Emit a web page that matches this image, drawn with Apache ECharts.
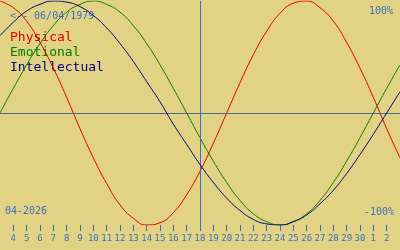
<!DOCTYPE html>
<html><head><meta charset="utf-8">
<script src="https://cdn.jsdelivr.net/npm/echarts@6/dist/echarts.min.js"></script>
<style>html,body{margin:0;padding:0;background:#e1d383;}#c{width:400px;height:250px;}</style>
</head><body><div id="c"></div>
<script>
// Day categories: Apr 3 .. May 3 (first and last are off the tick row)
const days = ['3','4','5','6','7','8','9','10','11','12','13','14','15','16','17','18','19','20','21','22','23','24','25','26','27','28','29','30','1','2','3'];
const todayLabel = '18';
const physical = [1.00,0.94,0.82,0.63,0.40,0.14,-0.14,-0.40,-0.63,-0.82,-0.94,-1.00,-0.98,-0.89,-0.73,-0.52,-0.27,0.00,0.27,0.52,0.73,0.89,0.98,1.00,0.94,0.82,0.63,0.40,0.14,-0.14,-0.40];
const emotional = [0.00,0.22,0.43,0.62,0.78,0.90,0.97,1.00,0.97,0.90,0.78,0.62,0.43,0.22,0.00,-0.22,-0.43,-0.62,-0.78,-0.90,-0.97,-1.00,-0.97,-0.90,-0.78,-0.62,-0.43,-0.22,0.00,0.22,0.43];
const intellectual = [0.69,0.81,0.91,0.97,1.00,0.99,0.95,0.87,0.76,0.62,0.46,0.28,0.10,-0.10,-0.28,-0.46,-0.62,-0.76,-0.87,-0.95,-0.99,-1.00,-0.97,-0.91,-0.81,-0.69,-0.54,-0.37,-0.19,0.00,0.19];
const seriesNames = ['Physical','Emotional','Intellectual'];
const birthText = '<-- 06/04/1979';
const monthText = '04-2026';
const topText = '100%';
const bottomText = '-100%';

const blue = '#3b6fc4';
const colors = ['#e00000','#008000','#000080'];
const mono = '"DejaVu Sans Mono", monospace';
const lastIdx = days.length - 1;

const chart = echarts.init(document.getElementById('c'), null, {renderer:'canvas'});
chart.setOption({
  animation: false,
  backgroundColor: '#e1d383',
  grid: {left: 0, right: 0, top: 1, bottom: 25},
  xAxis: {
    type: 'category', data: days, boundaryGap: false, position: 'bottom',
    axisLine: {show: false, onZero: false},
    axisTick: {show: true, length: 6, lineStyle: {color: blue, width: 1},
      interval: (i) => i > 0 && i < lastIdx},
    axisLabel: {color: blue, fontFamily: mono, fontSize: 9, margin: 9,
      interval: (i) => i > 0 && i < lastIdx},
    splitLine: {show: false}
  },
  yAxis: {type: 'value', min: -1, max: 1, show: false},
  series: [
    {name: seriesNames[0], type: 'line', data: physical, smooth: true, showSymbol: false,
     lineStyle: {color: colors[0], width: 1}, z: 3,
     markLine: {silent: true, symbol: 'none', label: {show: false},
       data: [{yAxis: 0, lineStyle: {color: '#4f6a8a', width: 1, type: 'solid'}},
              {xAxis: todayLabel, lineStyle: {color: blue, width: 1, type: 'solid'}}]}},
    {name: seriesNames[1], type: 'line', data: emotional, smooth: true, showSymbol: false,
     lineStyle: {color: colors[1], width: 1}, z: 4},
    {name: seriesNames[2], type: 'line', data: intellectual, smooth: true, showSymbol: false,
     lineStyle: {color: colors[2], width: 1}, z: 5}
  ],
  graphic: [
    {type: 'text', left: 10, top: 11, style: {text: birthText, fill: blue, font: '10px ' + mono}},
    {type: 'text', left: 10, top: 31, style: {text: seriesNames[0], fill: colors[0], font: '13px ' + mono}},
    {type: 'text', left: 10, top: 46, style: {text: seriesNames[1], fill: colors[1], font: '13px ' + mono}},
    {type: 'text', left: 10, top: 61, style: {text: seriesNames[2], fill: colors[2], font: '13px ' + mono}},
    {type: 'text', right: 7, top: 6, style: {text: topText, fill: blue, font: '10px ' + mono}},
    {type: 'text', right: 6, top: 207, style: {text: bottomText, fill: blue, font: '10px ' + mono}},
    {type: 'text', left: 5, top: 206, style: {text: monthText, fill: blue, font: '10px ' + mono}}
  ]
});
</script></body></html>
